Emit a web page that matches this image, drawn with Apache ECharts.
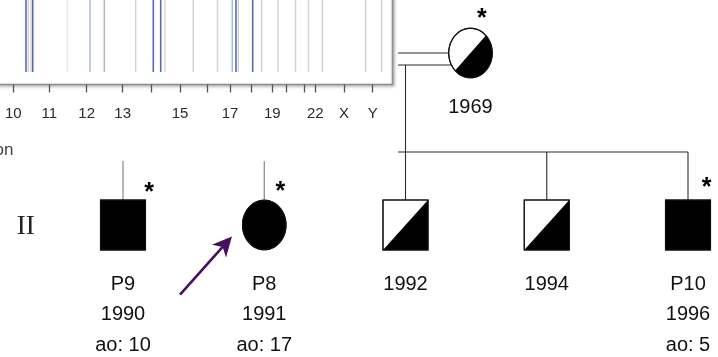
<!DOCTYPE html>
<html>
<head>
<meta charset="utf-8">
<script src="https://cdn.jsdelivr.net/npm/echarts@6/dist/echarts.min.js"></script>
<style>
  html, body { margin: 0; padding: 0; background: #fff; }
  #chart { width: 718px; height: 357px; }
</style>
</head>
<body>
<div id="chart"></div>
<script>
// ---------- genome scan strip (plot units along the concatenated genome) ----------
const chromNames    = ['10', '11', '12', '13', '14', '15', '16', '17', '18', '19', '20', '21', '22', 'X', 'Y'];
const chromTicks    = [13.3, 49.3, 86.7, 122.7, 151.7, 180, 207.3, 230, 251.7, 272.3, 286.7, 304, 315.3, 344, 372.7];
const chromLabelled = ['10', '11', '12', '13', '15', '17', '19', '22', 'X', 'Y'];

// marker calls, grouped by how strongly they are shared across the family
const sharedHits       = [26, 32.7, 153.3, 160.7, 236, 252.7];
const weakSharedHits   = [90, 232.3];
const strongSingleHits = [104.3];
const singleHits       = [28.3, 31, 135.7, 165, 193.3, 217.5, 238.3, 261.7, 278, 295.5, 308.5, 322.3, 365.7, 381.7];
const faintHits        = [67.5];

// ---------- pedigree ----------
const personIds   = ['I-2', 'II-1', 'II-2', 'II-3', 'II-4', 'II-5'];
const sex         = ['F', 'M', 'F', 'M', 'M', 'M'];
const status      = ['carrier', 'affected', 'affected', 'carrier', 'carrier', 'affected'];
const generation  = [1, 2, 2, 2, 2, 2];
const slot        = [2.46, 0, 1, 2, 3, 4];
const sequenced   = [true, true, true, false, false, true];
const patientCode = ['', 'P9', 'P8', '', '', 'P10'];
const birthYear   = [1969, 1990, 1991, 1992, 1994, 1996];
const ageAtOnset  = [null, 10, 17, null, null, 5];
const onSibLine   = [false, false, false, true, true, true];
const proband     = 'II-2';
const genLabels   = ['II'];
const genLabelRow = [2];

// ---------- layout & style ----------
const W = 718, H = 357;
const FONT = '"Liberation Sans", Arial, Helvetica, sans-serif';
const PED = { slot0: 123, slotW: 141.25, gen1Y: 53, genGap: 172 };
const SHAPE = { sqW: 45, sqH: 50, ciW: 43.5, ciH: 49.5 };
const LINK = { sibAbove: 48, stubLen: 39, overhang: 7.5, coupleGap: 12 };
const TEXT_ROW0 = { 1: 54, 2: 59 };
const TEXT_STEP = 30.5;
const STAR_NUDGE = {
  'I-2':  [11.3, -15],
  'II-1': [26, -13.3],
  'II-2': [16, -14],
  'II-5': [18.7, -18.3]
};
const HIT_COLORS = ['#5669b3', '#aab7de', '#b4b4b4', '#d3d3d3', '#e7e7e7'];
const HIT_WIDTH  = [1.6, 1.5, 1.4, 1.4, 1.4];

// strip geometry
const STRIP = { left: -10, top: -20, width: 402.5, height: 104.5 };
const HIT_FLOOR = 12;   // calls are drawn from this level to the top of the strip

const hitRows = [];
[sharedHits, weakSharedHits, strongSingleHits, singleHits, faintHits].forEach((arr, k) => {
  arr.forEach(p => hitRows.push([p, k]));
});

function renderHit(params, api) {
  const pos = api.value(0), kind = api.value(1);
  const a = api.coord([pos, HIT_FLOOR]);
  const b = api.coord([pos, 100]);
  return {
    type: 'line',
    shape: { x1: a[0], y1: a[1], x2: b[0], y2: b[1] },
    style: { stroke: HIT_COLORS[kind], lineWidth: HIT_WIDTH[kind] }
  };
}

function ellipsePoints(cx, cy, rx, ry, t0, t1, n) {
  const pts = [];
  for (let k = 0; k <= n; k++) {
    const t = t0 + (t1 - t0) * k / n;
    pts.push([cx + rx * Math.cos(t), cy + ry * Math.sin(t)]);
  }
  return pts;
}

function renderPerson(params, api) {
  const i = params.dataIndex;
  const c = api.coord([slot[i], generation[i]]);
  const cx = c[0], cy = c[1];
  const male = sex[i] === 'M';
  const w = male ? SHAPE.sqW : SHAPE.ciW;
  const h = male ? SHAPE.sqH : SHAPE.ciH;
  const top = cy - h / 2;
  const kids = [];
  const fill = status[i] === 'affected' ? '#000' : '#fff';
  const outline = { stroke: '#111', lineWidth: 1.1, fill: 'none' };

  // stem above a sibling
  if (generation[i] > 1) {
    const len = onSibLine[i] ? LINK.sibAbove : LINK.stubLen;
    kids.push({
      type: 'line',
      shape: { x1: cx, y1: top - len, x2: cx, y2: top },
      style: { stroke: onSibLine[i] ? '#2a2a2a' : '#7a7a7a', lineWidth: 1.1 }
    });
  }

  if (male) {
    kids.push({ type: 'rect', shape: { x: cx - w / 2, y: top, width: w, height: h },
      style: { fill: fill, stroke: '#111', lineWidth: 1.1 } });
    if (status[i] === 'carrier') {
      kids.push({ type: 'polygon', shape: { points: [
        [cx - w / 2, top + h], [cx + w / 2, top], [cx + w / 2, top + h]] },
        style: { fill: '#000' } });
    }
    kids.push({ type: 'rect', shape: { x: cx - w / 2, y: top, width: w, height: h }, style: outline });
  } else {
    const full = ellipsePoints(cx, cy, w / 2, h / 2, 0, Math.PI * 2, 72);
    kids.push({ type: 'polygon', shape: { points: full },
      style: { fill: fill, stroke: '#111', lineWidth: 1.1 } });
    if (status[i] === 'carrier') {
      kids.push({ type: 'polygon',
        shape: { points: ellipsePoints(cx, cy, w / 2, h / 2, -Math.PI / 4, Math.PI * 3 / 4, 40) },
        style: { fill: '#000' } });
    }
    kids.push({ type: 'polygon', shape: { points: full }, style: outline });
  }

  // sequenced marker
  if (sequenced[i]) {
    const nudge = STAR_NUDGE[personIds[i]] || [18, -15];
    kids.push({
      type: 'text', x: cx + nudge[0], y: top + nudge[1] + 6,
      style: { text: '*', fill: '#000', font: 'bold 25px ' + FONT, align: 'center', verticalAlign: 'middle' }
    });
  }

  // text rows below the symbol
  const rows = [];
  if (patientCode[i]) rows.push(patientCode[i]);
  rows.push(String(birthYear[i]));
  if (ageAtOnset[i] != null) rows.push('ao: ' + ageAtOnset[i]);
  rows.forEach((t, r) => {
    kids.push({
      type: 'text', x: cx, y: cy + TEXT_ROW0[generation[i]] + r * TEXT_STEP,
      style: { text: t, fill: '#111', font: '20px ' + FONT, align: 'center', verticalAlign: 'middle' }
    });
  });

  // proband arrow
  if (personIds[i] === proband) {
    const tip = [cx - 32.3, cy + 11.5];
    const tail = [cx - 84.2, cy + 69.7];
    const dx = tip[0] - tail[0], dy = tip[1] - tail[1];
    const L = Math.hypot(dx, dy);
    const ux = dx / L, uy = dy / L, nx = -uy, ny = ux;
    const headLen = 19.5, notch = 14, half = 9.5;
    kids.push({ type: 'line',
      shape: { x1: tail[0], y1: tail[1], x2: tip[0] - ux * notch, y2: tip[1] - uy * notch },
      style: { stroke: '#4a0e5e', lineWidth: 2.6 } });
    kids.push({ type: 'polygon', shape: { points: [
      tip,
      [tip[0] - ux * headLen + nx * half, tip[1] - uy * headLen + ny * half],
      [tip[0] - ux * notch, tip[1] - uy * notch],
      [tip[0] - ux * headLen - nx * half, tip[1] - uy * headLen - ny * half]
    ] }, style: { fill: '#4a0e5e' } });
  }

  return { type: 'group', children: kids };
}

function renderLinks(params, api) {
  const mom = generation.indexOf(1);
  const m = api.coord([slot[mom], 1]);
  const sibs = [];
  personIds.forEach((id, i) => { if (onSibLine[i]) sibs.push(api.coord([slot[i], generation[i]])[0]); });
  const g2 = api.coord([0, 2])[1];
  const sibY = g2 - SHAPE.sqH / 2 - LINK.sibAbove;
  const startX = Math.min.apply(null, sibs) - LINK.overhang;
  const endX = Math.max.apply(null, sibs);
  const momLeft = m[0] - SHAPE.ciW / 2;
  const lowY = m[1] + LINK.coupleGap;
  const st = { stroke: '#2a2a2a', lineWidth: 1.1 };
  return { type: 'group', children: [
    { type: 'line', shape: { x1: startX, y1: m[1], x2: momLeft + 0.5, y2: m[1] }, style: st },
    { type: 'line', shape: { x1: startX, y1: lowY, x2: momLeft + 3, y2: lowY }, style: st },
    { type: 'line', shape: { x1: sibs[0], y1: lowY, x2: sibs[0], y2: sibY }, style: st },
    { type: 'line', shape: { x1: startX, y1: sibY, x2: endX, y2: sibY }, style: st }
  ] };
}

function renderGenLabel(params, api) {
  const g = genLabelRow[params.dataIndex];
  const y = api.coord([0, g])[1];
  return { type: 'text', x: 25.7, y: y + 1.5,
    style: { text: genLabels[params.dataIndex], fill: '#222',
      font: '27px "Liberation Serif", "Times New Roman", serif', align: 'center', verticalAlign: 'middle' } };
}

const chart = echarts.init(document.getElementById('chart'), null, { renderer: 'canvas' });

const pedXMin = -PED.slot0 / PED.slotW;
const pedXMax = (W - PED.slot0) / PED.slotW;
const pedYMin = 1 - PED.gen1Y / PED.genGap;
const pedYMax = 1 + (H - PED.gen1Y) / PED.genGap;

chart.setOption({
  animation: false,
  backgroundColor: '#fff',
  grid: [
    {
      left: STRIP.left, top: STRIP.top, width: STRIP.width, height: STRIP.height,
      outerBoundsMode: 'none', containLabel: false,
      show: true, backgroundColor: '#fff', borderColor: '#8e8e8e', borderWidth: 1.6,
      shadowColor: 'rgba(0,0,0,0.28)', shadowBlur: 3, shadowOffsetX: 1.5, shadowOffsetY: 1.5
    },
    { left: 0, top: 0, width: W, height: H, show: false, outerBoundsMode: 'none', containLabel: false }
  ],
  xAxis: [
    {
      gridIndex: 0, type: 'value', min: STRIP.left, max: STRIP.left + STRIP.width,
      position: 'bottom', offset: 2,
      axisLine: { show: false },
      splitLine: { show: false },
      axisTick: { show: true, customValues: chromTicks, length: 8, lineStyle: { color: '#555', width: 1.3 } },
      axisLabel: {
        show: true, margin: 20, fontSize: 15, color: '#2b2b2b', fontFamily: FONT,
        customValues: chromLabelled.map(n => chromTicks[chromNames.indexOf(n)]),
        formatter: v => chromNames[chromTicks.indexOf(v)]
      }
    },
    { gridIndex: 1, type: 'value', min: pedXMin, max: pedXMax, show: false }
  ],
  yAxis: [
    { gridIndex: 0, type: 'value', min: 0, max: 100, show: false },
    { gridIndex: 1, type: 'value', min: pedYMin, max: pedYMax, inverse: true, show: false }
  ],
  graphic: [
    { type: 'text', x: 13.5, y: 150,
      style: { text: 'Chromosome position', fill: '#444', font: '17px ' + FONT, align: 'right', verticalAlign: 'middle' } }
  ],
  series: [
    { type: 'custom', name: 'calls', xAxisIndex: 0, yAxisIndex: 0, renderItem: renderHit,
      data: hitRows, clip: true, silent: true },
    { type: 'custom', name: 'links', xAxisIndex: 1, yAxisIndex: 1, renderItem: renderLinks,
      data: [[0, 1]], clip: false, silent: true },
    { type: 'custom', name: 'people', xAxisIndex: 1, yAxisIndex: 1, renderItem: renderPerson,
      data: personIds.map((id, i) => [slot[i], generation[i]]), clip: false, silent: true },
    { type: 'custom', name: 'generations', xAxisIndex: 1, yAxisIndex: 1, renderItem: renderGenLabel,
      data: genLabels.map((g, k) => [0, genLabelRow[k]]), clip: false, silent: true }
  ]
});
</script>
</body>
</html>
